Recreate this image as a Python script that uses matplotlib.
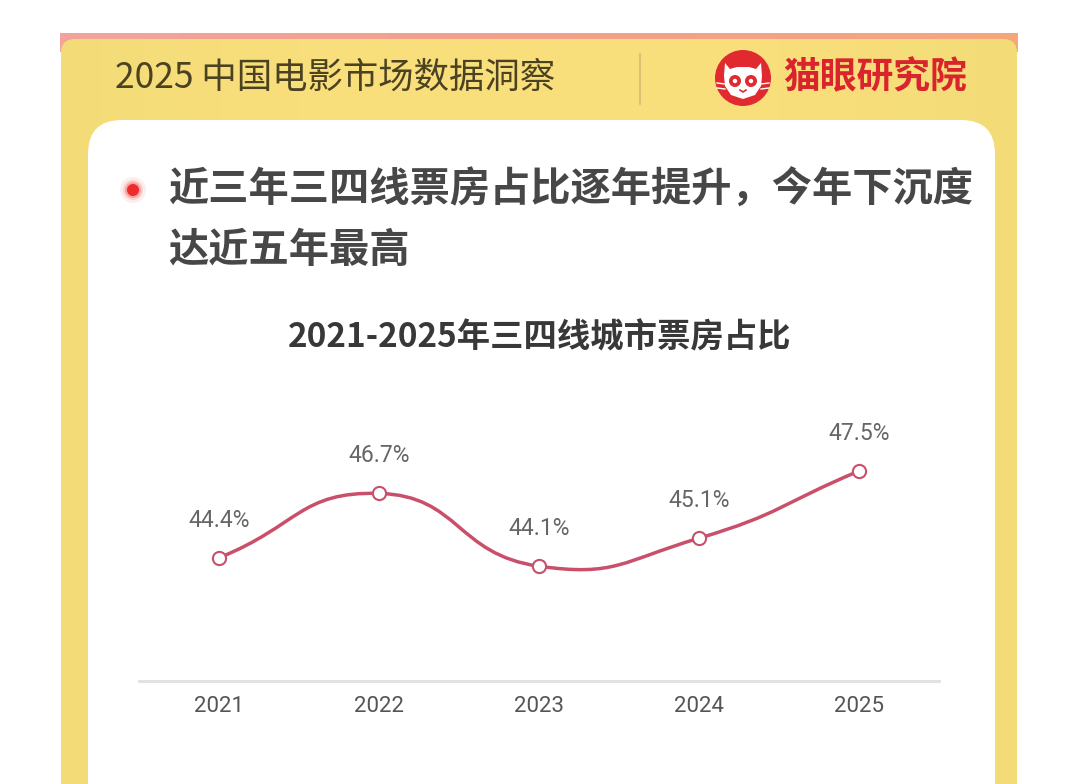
import numpy as np
import matplotlib
matplotlib.use("Agg")
import matplotlib.pyplot as plt
from matplotlib.patches import FancyBboxPatch, Circle, Polygon, PathPatch
from matplotlib.path import Path
from matplotlib.colors import LinearSegmentedColormap

# ---------------- data ----------------
years = ["2021", "2022", "2023", "2024", "2025"]
share = [44.4, 46.7, 44.1, 45.1, 47.5]
labels = ["44.4%", "46.7%", "44.1%", "45.1%", "47.5%"]

header_text = "2025 中国电影市场数据洞察"
brand_text = "猫眼研究院"
headline_1 = "近三年三四线票房占比逐年提升，今年下沉度"
headline_2 = "达近五年最高"
chart_title = "2021-2025年三四线城市票房占比"

CJK = ["Noto Sans CJK SC", "DejaVu Sans"]
NUM = ["Roboto", "DejaVu Sans"]
plt.rcParams["font.family"] = CJK

W, H = 1080, 784
fig = plt.figure(figsize=(W / 100, H / 100), dpi=100)
fig.patch.set_facecolor("white")

# ---------------- decoration layer (pixel coordinates) ----------------
bg = fig.add_axes([0, 0, 1, 1], zorder=0)
bg.set_xlim(0, W)
bg.set_ylim(H, 0)
bg.axis("off")

# salmon top strip with gradient
grad = np.linspace(0, 1, 256)[None, :]
salmon = LinearSegmentedColormap.from_list("s", ["#f3a39a", "#f2a08a", "#f5a67c"])
bg.imshow(grad, extent=(60, 1018, 52, 33), cmap=salmon, aspect="auto", zorder=1)

# yellow panel with soft horizontal shading (slightly deeper at the sides)
ycmap = LinearSegmentedColormap.from_list("y", ["#f3dc78", "#f9df7b", "#fae07c", "#f9df7b", "#f3dc78"])
panel = FancyBboxPatch((61, 39), 956, 800, boxstyle="round,pad=0,rounding_size=14",
                       fc="none", ec="none", zorder=2)
bg.add_patch(panel)
im = bg.imshow(grad, extent=(61, 1017, 840, 39), cmap=ycmap, aspect="auto", zorder=2)
im.set_clip_path(panel)

# white card
card = FancyBboxPatch((88, 120), 907, 800, boxstyle="round,pad=0,rounding_size=34",
                      fc="white", ec="none", zorder=3)
bg.add_patch(card)

# header
bg.text(115, 78, header_text, fontsize=25.5, color="#4b4222", ha="left", va="center",
        family=CJK, zorder=5)
bg.plot([640, 640], [54, 104], color="#d2bd70", lw=1.2, zorder=5)

# logo: red circle with cat face
cx, cy = 743, 78
bg.add_patch(Circle((cx, cy), 28, fc="#e02a2f", ec="none", zorder=5))
face = Polygon([(cx - 18, cy - 15), (cx - 13, cy - 9), (cx - 6, cy - 11), (cx, cy - 11),
                (cx + 6, cy - 11), (cx + 13, cy - 9), (cx + 18, cy - 15),
                (cx + 19, cy - 2), (cx + 18, cy + 8), (cx + 12, cy + 17), (cx, cy + 21),
                (cx - 12, cy + 17), (cx - 18, cy + 8), (cx - 19, cy - 2)],
               closed=True, fc="white", ec="none", zorder=6)
bg.add_patch(face)
for ex in (cx - 8, cx + 8):
    bg.add_patch(Circle((ex, cy + 3), 6, fc="#e02a2f", ec="none", zorder=7))
    bg.add_patch(Circle((ex, cy + 3), 2.2, fc="white", ec="none", zorder=8))
bg.plot([cx - 3, cx, cx + 3], [cy + 12, cy + 14, cy + 12], color="#e02a2f", lw=1.2, zorder=8)
for dy in (-1, 4):
    bg.plot([cx - 26, cx - 18], [cy + 6 + dy, cy + 7 + dy], color="white", lw=1, zorder=6)
    bg.plot([cx + 18, cx + 26], [cy + 7 + dy, cy + 6 + dy], color="white", lw=1, zorder=6)
bg.text(783, 78, brand_text, fontsize=26.5, color="#d9232d", ha="left", va="center",
        fontweight="bold", family=CJK, zorder=5)

# bullet with glow
for r, a in [(13, 0.10), (10, 0.18), (8, 0.35)]:
    bg.add_patch(Circle((133, 190), r, fc="#f05050", ec="none", alpha=a, zorder=5))
bg.add_patch(Circle((133, 190), 6, fc="#ee2a2a", ec="none", zorder=6))

# headline
bg.text(168, 190, headline_1, fontsize=29, color="#474747", ha="left", va="center",
        fontweight="bold", family=CJK, zorder=5)
bg.text(168, 250, headline_2, fontsize=29, color="#474747", ha="left", va="center",
        fontweight="bold", family=CJK, zorder=5)

# chart title
bg.text(540, 338, chart_title, fontsize=24, color="#383838", ha="center", va="center",
        fontweight="bold", family=CJK, zorder=5)

# ---------------- chart ----------------
x_left, x_right = 139, 939
y_top, y_bot = 401, 681
ax = fig.add_axes([x_left / W, (H - y_bot) / H, (x_right - x_left) / W, (y_bot - y_top) / H],
                  zorder=2)
ax.patch.set_alpha(0)
xs = np.arange(len(years))
ax.set_xlim(-0.5, len(years) - 0.5)
ax.set_ylim(40, 50)

# smooth curve (ECharts-like smoothing, computed in pixel-proportional space)
sx, sy = 160.0, 28.0
P = np.column_stack([xs * sx, np.asarray(share) * sy])
n = len(P)
verts = [P[0]]
codes = [Path.MOVETO]
sm = 0.5
for i in range(n - 1):
    p0, p1 = P[i], P[i + 1]
    prev = P[i - 1] if i > 0 else P[i]
    nxt = P[i + 1]
    v = nxt - prev
    d0 = np.hypot(*(p0 - prev)); d1 = np.hypot(*(nxt - p0))
    c1 = p0 + v * sm * (d1 / (d0 + d1))
    prev2 = P[i]
    nxt2 = P[i + 2] if i + 2 < n else P[i + 1]
    v2 = nxt2 - prev2
    e0 = np.hypot(*(p1 - prev2)); e1 = np.hypot(*(nxt2 - p1))
    c2 = p1 - v2 * sm * (e0 / (e0 + e1))
    verts += [c1, c2, p1]
    codes += [Path.CURVE4] * 3
verts = np.array(verts) / np.array([sx, sy])
line_color = "#c94f6b"
ax.add_patch(PathPatch(Path(verts, codes), fc="none", ec=line_color, lw=2.5,
                       capstyle="round", joinstyle="round", zorder=3))
ax.plot(xs, share, ls="none", marker="o", ms=9.5, mfc="white", mec=line_color, mew=1.5,
        zorder=4, clip_on=False)

for x, y, t in zip(xs, share, labels):
    ax.annotate(t, (x, y), xytext=(0, 27), textcoords="offset points", ha="center",
                va="center", fontsize=16.5, color="#666666", family=NUM)

for s in ("top", "right", "left"):
    ax.spines[s].set_visible(False)
ax.spines["bottom"].set_color("#e2e2e2")
ax.spines["bottom"].set_linewidth(2.2)
ax.set_yticks([])
ax.set_xticks(xs)
ax.set_xticklabels(years, fontsize=16, color="#555555", family=NUM)
ax.tick_params(axis="x", length=0, pad=11)

fig.savefig("out.png", dpi=100, facecolor="white")
